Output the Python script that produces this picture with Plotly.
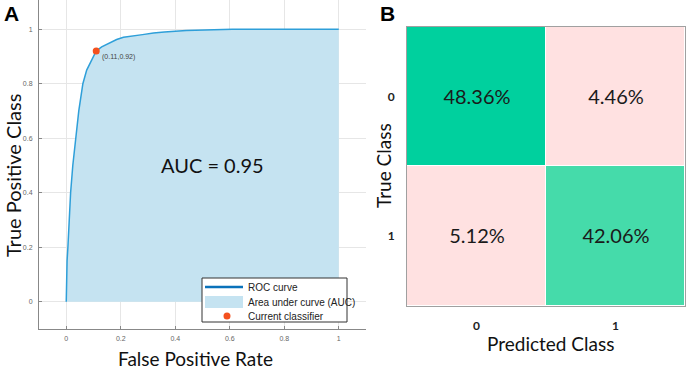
import plotly.graph_objects as go

# ROC data
fpr = [0.0, 0.001, 0.003, 0.006, 0.010, 0.016, 0.024, 0.034, 0.046, 0.061, 0.075, 0.090, 0.110,
       0.130, 0.160, 0.185, 0.210, 0.245, 0.280, 0.320, 0.360, 0.440, 0.520, 0.610, 0.800, 1.0]
tpr = [0.0, 0.08, 0.15, 0.20, 0.30, 0.40, 0.50, 0.60, 0.70, 0.80, 0.85, 0.88, 0.92,
       0.935, 0.95, 0.962, 0.970, 0.976, 0.980, 0.986, 0.990, 0.995, 0.998, 1.0, 1.0, 1.0]
current_fpr = [0.11]
current_tpr = [0.92]
auc_value = 0.95
legend_labels = ["ROC curve", "Area under curve (AUC)", "Current classifier"]

# Confusion matrix
pred_labels = ["0", "1"]
true_labels = ["0", "1"]
cm_values = [[48.36, 4.46], [5.12, 42.06]]

W, H = 692, 371
def px(x): return x / W
def py(y): return 1 - y / H

C_FILL = "#C5E3F1"
C_LINE = "#2E9FD9"
C_LEG_LINE = "#0A72BA"
C_PT = "#F4511E"

fig = go.Figure()

fig.add_trace(go.Scatter(x=fpr, y=tpr, mode="lines", fill="tozeroy",
                         fillcolor=C_FILL, line=dict(width=0, color=C_FILL),
                         name=legend_labels[1], xaxis="x", yaxis="y", showlegend=False))
fig.add_trace(go.Scatter(x=fpr, y=tpr, mode="lines",
                         line=dict(width=1.5, color=C_LINE),
                         name=legend_labels[0], xaxis="x", yaxis="y", showlegend=False))
fig.add_trace(go.Scatter(x=current_fpr, y=current_tpr, mode="markers",
                         marker=dict(size=7, color=C_PT),
                         name=legend_labels[2], xaxis="x", yaxis="y", showlegend=False))

fig.add_trace(go.Heatmap(
    x=[0, 1], y=[0, 1], z=cm_values,
    colorscale=[[0, "#FFE1E1"], [0.5, "#FFE1E1"], [0.5, "#45DBAA"], [0.87, "#45DBAA"], [1, "#00D09E"]],
    zmin=0, zmax=48.36, showscale=False, xgap=1, ygap=1,
    text=[[f"{v:.2f}%" for v in row] for row in cm_values],
    texttemplate="%{text}", textfont=dict(family="Lato", size=20, color="#1a1a1a"),
    hoverinfo="skip", showlegend=False, xaxis="x2", yaxis="y2"))

fig.update_layout(
    width=W, height=H, margin=dict(l=0, r=0, t=0, b=0),
    paper_bgcolor="white", plot_bgcolor="white",
    font=dict(family="Liberation Sans", color="#333"),
    showlegend=False,
    xaxis=dict(domain=[px(39), px(366)], range=[-0.1, 1.1], automargin=False,
               tickvals=[0, 0.2, 0.4, 0.6, 0.8, 1], ticktext=["0", "0.2", "0.4", "0.6", "0.8", "1"],
               tickfont=dict(size=7, color="#666"), showgrid=True, gridcolor="#E6E6E6", gridwidth=1,
               zeroline=False, showline=True, linecolor="#888", linewidth=1,
               ticks="inside", ticklen=3, tickcolor="#888", anchor="y", ticklabelstandoff=3),
    yaxis=dict(domain=[py(329), 1.0], range=[-0.1, 1.107], automargin=False,
               tickvals=[0, 0.2, 0.4, 0.6, 0.8, 1], ticktext=["0", "0.2", "0.4", "0.6", "0.8", "1"],
               tickfont=dict(size=7, color="#666"), showgrid=True, gridcolor="#E6E6E6", gridwidth=1,
               zeroline=False, showline=True, linecolor="#888", linewidth=1,
               ticks="inside", ticklen=3, tickcolor="#888", anchor="x", ticklabelstandoff=4),
    xaxis2=dict(domain=[px(407), px(685)], range=[-0.5, 1.5], automargin=False,
                tickvals=[0, 1], ticktext=["<b>0</b>", "<b>1</b>"],
                tickfont=dict(family="Lato", size=12, color="#222"), showgrid=False, zeroline=False,
                showline=True, mirror=True, linecolor="#A0A0A0", linewidth=1, ticks="", anchor="y2",
                ticklabelstandoff=9),
    yaxis2=dict(domain=[py(305.7), py(27)], range=[1.5, -0.5], automargin=False,
                tickvals=[0, 1], ticktext=["<b>0</b>", "<b>1</b>"],
                tickfont=dict(family="Lato", size=12, color="#222"), showgrid=False, zeroline=False,
                showline=True, mirror=True, linecolor="#A0A0A0", linewidth=1, ticks="", anchor="x2",
                ticklabelstandoff=9),
)

# Manual legend (box, swatches) to match compact MATLAB style
shapes = [
    dict(type="rect", xref="paper", yref="paper", x0=px(202), x1=px(347), y0=py(322), y1=py(278),
         fillcolor="white", line=dict(color="#333", width=1), layer="above"),
    dict(type="line", xref="paper", yref="paper", x0=px(205), x1=px(243), y0=py(287), y1=py(287),
         line=dict(color=C_LEG_LINE, width=2.5), layer="above"),
    dict(type="rect", xref="paper", yref="paper", x0=px(205), x1=px(243), y0=py(308), y1=py(296),
         fillcolor=C_FILL, line=dict(width=0), layer="above"),
    dict(type="circle", xref="paper", yref="paper", x0=px(223.5), x1=px(230.5), y0=py(319.5), y1=py(312.5),
         fillcolor=C_PT, line=dict(width=0), layer="above"),
]
fig.update_layout(shapes=shapes)

def txt(text, x, y, size=19, family="Lato", color="#111", angle=0, xanchor="center"):
    return dict(text=text, x=px(x), y=py(y), xref="paper", yref="paper", textangle=angle,
                xanchor=xanchor, yanchor="middle", showarrow=False,
                font=dict(family=family, size=size, color=color))

ann = [
    dict(text="(0.11,0.92)", x=0.11, y=0.92, xref="x", yref="y", xanchor="left", yanchor="middle",
         xshift=4, yshift=-6, showarrow=False, font=dict(size=7, color="#444")),
    dict(text=f"AUC = {auc_value}", x=0.535, y=0.5, xref="x", yref="y", showarrow=False,
         xanchor="center", yanchor="middle",
         font=dict(family="Lato", size=20, color="#111")),
    txt("True Positive Class", 13, 176, size=20, angle=-90),
    txt("False Positive Rate", 195, 358),
    txt("True Class", 383, 166, angle=-90),
    txt("Predicted Class", 550, 343),
    txt("<b>A</b>", 12, 13, size=21, family="Liberation Sans", color="#000"),
    txt("<b>B</b>", 387, 13, size=21, family="Liberation Sans", color="#000"),
]
for i, yy in enumerate([287, 302, 316]):
    ann.append(txt(legend_labels[i], 246, yy, size=10, family="Liberation Sans", color="#222", xanchor="left"))
fig.update_layout(annotations=ann)

fig.write_html("out.html", config={"displayModeBar": False},
               post_script="document.body.style.margin='0';document.body.style.overflow='hidden';")
